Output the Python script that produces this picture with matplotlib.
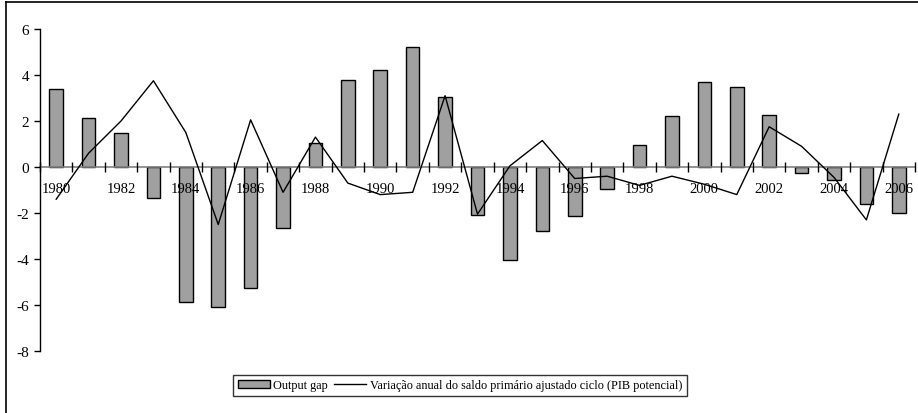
import numpy as np
import matplotlib.pyplot as plt
from matplotlib.lines import Line2D

# data
years = list(range(1980, 2007))
output_gap = [3.4, 2.15, 1.5, -1.35, -5.85, -6.1, -5.25, -2.65, 1.05, 3.8,
              4.2, 5.2, 3.05, -2.1, -4.05, -2.8, -2.15, -0.95, 0.95, 2.2,
              3.7, 3.5, 2.25, -0.25, -0.55, -1.6, -2.0]
saldo = [-1.4, 0.6, 2.0, 3.75, 1.5, -2.5, 2.05, -1.1, 1.3, -0.7,
         -1.2, -1.1, 3.1, -2.05, 0.05, 1.15, -0.5, -0.4, -0.8, -0.4,
         -0.75, -1.2, 1.75, 0.9, -0.45, -2.3, 2.3]
yticks = [-8, -6, -4, -2, 0, 2, 4, 6]

plt.rcParams['font.family'] = ['Liberation Serif', 'DejaVu Serif']
plt.rcParams['axes.unicode_minus'] = False

fig = plt.figure(figsize=(9.18, 4.14), dpi=100)
ax = fig.add_axes([40/918, 1 - 352/414, 875/918, 322/414])

x = np.arange(len(years))
ax.bar(x, output_gap, width=0.42, color='#a0a0a0', edgecolor='black', linewidth=1, zorder=1)
ax.plot(x, saldo, color='black', linewidth=1, zorder=3)
ax.set_axisbelow(False)

ax.set_xlim(-0.5, len(years) - 0.5)
ax.set_ylim(-8, 6)

# axes styling (excel-like)
ax.spines['top'].set_visible(False)
ax.spines['right'].set_visible(False)
ax.spines['bottom'].set_position(('data', 0))
ax.spines['bottom'].set_color('#808080')
ax.spines['bottom'].set_linewidth(1.2)
ax.spines['left'].set_linewidth(1)

ax.set_yticks(yticks)
ax.set_yticklabels([str(v) for v in yticks])
ax.tick_params(axis='y', direction='out', length=4, width=1, labelsize=11, pad=4)

ax.set_xticks(np.arange(-0.5, len(years), 1))
ax.set_xticklabels([])
ax.tick_params(axis='x', which='major', direction='inout', length=7, width=1, color='black')
even = [i for i, yr in enumerate(years) if yr % 2 == 0]
ax.set_xticks(even, minor=True)
ax.set_xticklabels([str(years[i]) for i in even], minor=True)
ax.tick_params(axis='x', which='minor', length=0, labelsize=10.5, pad=11)

# frame lines at left and top of the picture
fig.add_artist(Line2D([5.5/918, 5.5/918], [0, 1 - 3/414], color='black', linewidth=1.2))
fig.add_artist(Line2D([5.5/918, 1], [1 - 3/414, 1 - 3/414], color='black', linewidth=1.2))

handles = [plt.Rectangle((0, 0), 1, 1, facecolor='#a0a0a0', edgecolor='black', linewidth=1),
           Line2D([], [], color='black', linewidth=1)]
leg = fig.legend(handles, ['Output gap', 'Variação anual do saldo primário ajustado ciclo (PIB potencial)'],
                 loc='center', bbox_to_anchor=(460/918, 1 - 386.5/414), ncol=2, fontsize=8.8,
                 frameon=True, fancybox=False, handlelength=2.6, handleheight=0.6,
                 columnspacing=0.5, handletextpad=0.3, borderpad=0.4, borderaxespad=0)
leg.get_frame().set_edgecolor('black')
leg.get_frame().set_linewidth(1)

plt.savefig('out.png', dpi=100)
